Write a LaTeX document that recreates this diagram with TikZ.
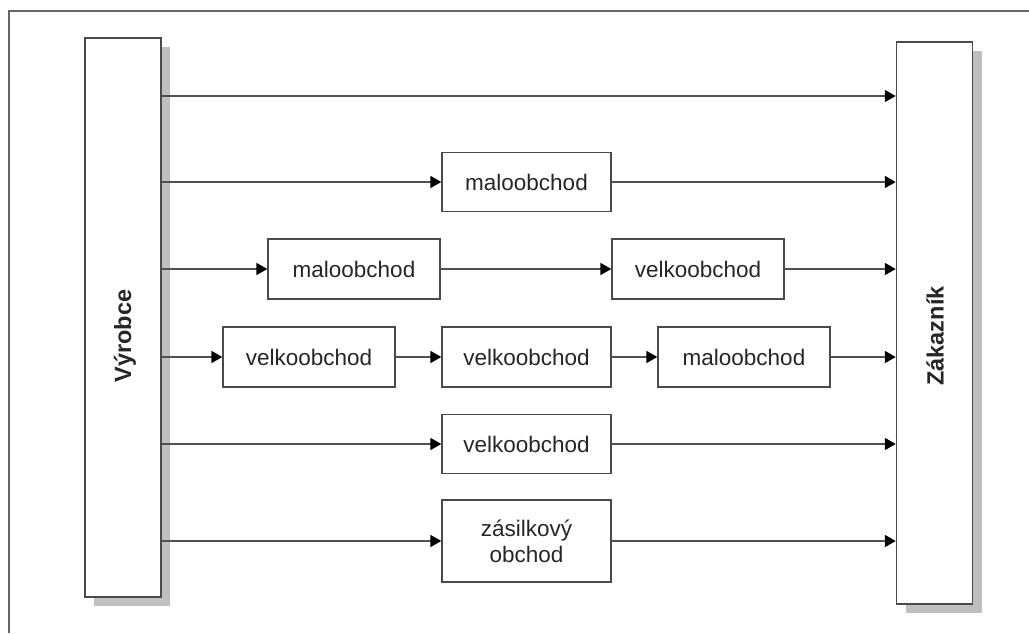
\documentclass[tikz,border=0pt]{standalone}
\usepackage{fontspec}
\setmainfont{Liberation Sans}
\usetikzlibrary{arrows.meta,shadows}
\definecolor{linec}{HTML}{505050}
\definecolor{boxc}{HTML}{4A4A4A}
\tikzset{
  stage/.style={draw=boxc, line width=1.3pt, fill=white, minimum width=170pt, minimum height=60pt,
    inner sep=0pt, font=\fontsize{22.5}{26}\selectfont, text=black!85, align=center},
  party/.style={draw=boxc, line width=1.5pt, fill=white, minimum width=76pt, inner sep=0pt,
    drop shadow={shadow xshift=9pt, shadow yshift=-9pt, fill=black!25, opacity=1}},
  partytext/.style={rotate=90, font=\fontsize{23.5}{26}\bfseries\selectfont, text=black!85},
  arr/.style={draw=linec, line width=1.7pt, -{Triangle[length=11pt,width=12pt,color=black]}},
  frame/.style={draw=black!60, line width=1.3pt}
}
\begin{document}
\begin{tikzpicture}[x=1pt,y=-1pt]
\useasboundingbox (0,0) rectangle (1029,633);
\coordinate (fo) at (9,11);
\coordinate (fr) at (1029,11);
\coordinate (fb) at (9,633);
\draw[frame] (fr) -- (fo) -- (fb);

\node[party, minimum height=559pt] (lb) at (123,317.5) {};
\node[party, minimum height=562pt] (rb) at (934.5,323) {};
\node[partytext] (lt) at (125,336) {Výrobce};
\node[partytext] (rt) at (935,336) {Zákazník};

\coordinate (r1) at (0,96);

\node[stage, minimum width=169pt, minimum height=59pt] (m1) at (526.5,182) {maloobchod};
\node[stage, minimum width=172pt] (m2) at (354,269) {maloobchod};
\node[stage, minimum width=172pt] (v2) at (698,269) {velkoobchod};
\node[stage, minimum width=172pt] (v3) at (309,357) {velkoobchod};
\node[stage, minimum width=169pt] (v4) at (526.5,357) {velkoobchod};
\node[stage, minimum width=172pt] (m3) at (744,357) {maloobchod};
\node[stage, minimum width=169pt, minimum height=59pt] (v5) at (526.5,444) {velkoobchod};
\node[stage, minimum width=169pt, minimum height=82pt] (z) at (526.5,541) {zásilkový\\obchod};

\draw[arr] (lb.east |- r1) -- (rb.west |- r1);
\draw[arr] (lb.east |- m1) -- (m1.west);
\draw[arr] (m1.east) -- (rb.west |- m1);
\draw[arr] (lb.east |- m2) -- (m2.west);
\draw[arr] (m2.east) -- (v2.west);
\draw[arr] (v2.east) -- (rb.west |- v2);
\draw[arr] (lb.east |- v3) -- (v3.west);
\draw[arr] (v3.east) -- (v4.west);
\draw[arr] (v4.east) -- (m3.west);
\draw[arr] (m3.east) -- (rb.west |- m3);
\draw[arr] (lb.east |- v5) -- (v5.west);
\draw[arr] (v5.east) -- (rb.west |- v5);
\draw[arr] (lb.east |- z) -- (z.west);
\draw[arr] (z.east) -- (rb.west |- z);
\end{tikzpicture}
\end{document}
